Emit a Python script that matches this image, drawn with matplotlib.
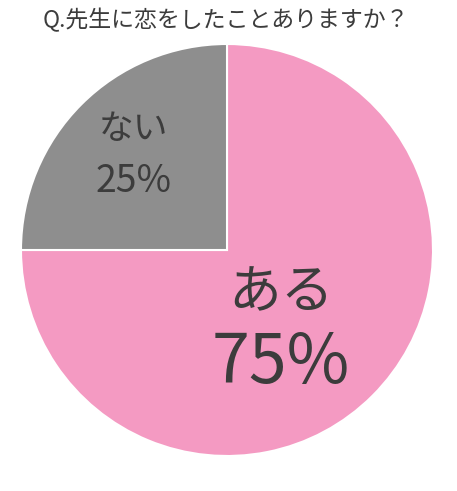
import matplotlib
matplotlib.use("Agg")
import matplotlib.pyplot as plt

title = "Q.先生に恋をしたことありますか？"
categories = ["ある", "ない"]
values = [75, 25]
colors = ["#F49AC2", "#8E8E8E"]

W, H = 457, 491
plt.rcParams['font.family'] = ['Noto Sans CJK JP', 'DejaVu Sans']
text_color = "#3C3C3C"

fig = plt.figure(figsize=(W / 100, H / 100), dpi=100)
ax = fig.add_axes([0, 0, 1, 1])
ax.set_xlim(0, W)
ax.set_ylim(0, H)
ax.set_aspect('equal')
ax.axis('off')

cx, cy, r = 227, H - 250, 206
ax.pie(values, colors=colors, startangle=90, counterclock=False,
       center=(cx, cy), radius=r,
       wedgeprops=dict(edgecolor="white", linewidth=1.5))
ax.set_xlim(0, W)
ax.set_ylim(0, H)

ax.text(226, H - 20, title, ha='center', va='center', fontsize=16.5, color=text_color)

# label: (x, name_y, value_y, name_size, value_size)
label_pos = {
    "ある": (281, 293, 364, 38, 49),
    "ない": (134, 129, 181, 25, 27),
}
for cat, val in zip(categories, values):
    x, ny, vy, ns, vs = label_pos[cat]
    ax.text(x, H - ny, cat, ha='center', va='center', fontsize=ns, color=text_color)
    ax.text(x, H - vy, f"{val}%", ha='center', va='center', fontsize=vs, color=text_color)

fig.savefig("out.png", dpi=100)
